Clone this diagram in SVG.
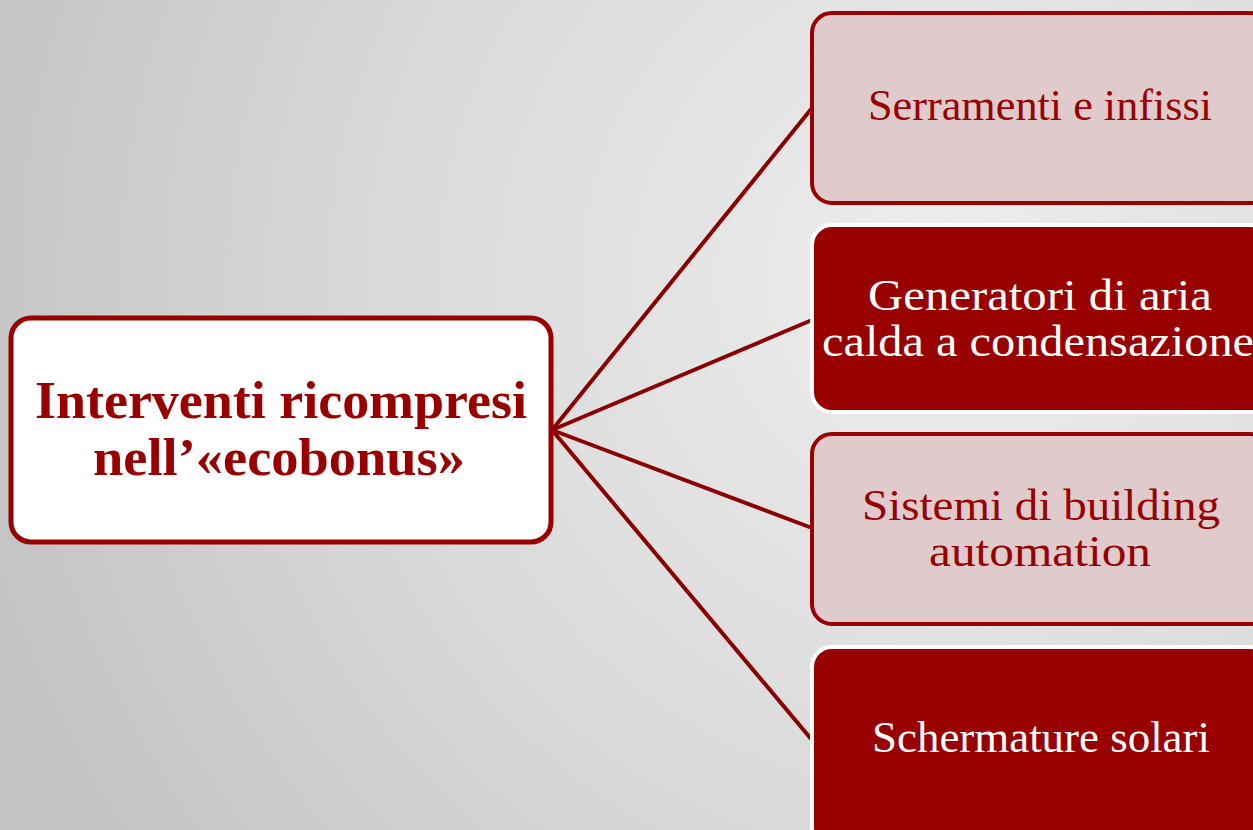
<svg xmlns="http://www.w3.org/2000/svg" width="1253" height="830" viewBox="0 0 1253 830">
<defs>
<radialGradient id="bg" cx="950" cy="280" r="1000" gradientUnits="userSpaceOnUse">
<stop offset="0" stop-color="#eeeeee"/>
<stop offset="0.55" stop-color="#dadada"/>
<stop offset="1" stop-color="#c4c4c4"/>
</radialGradient>
<style>
.conn{stroke:#8a0000;stroke-width:4;fill:none;stroke-linecap:round}
.light{fill:#dfcbcb;stroke:#990000;stroke-width:4}
.dark{fill:#990000;stroke:#ffffff;stroke-width:4}
.main{fill:#ffffff;stroke:#990000;stroke-width:5}
.t{font-family:"Liberation Serif","Times New Roman",serif;text-anchor:middle}
.tl{fill:#990000;font-size:45px}
.td{fill:#ffffff;font-size:45px}
.tm{fill:#990000;font-size:52px;font-weight:bold}
</style>
</defs>
<rect x="0" y="0" width="1253" height="830" fill="url(#bg)"/>
<g id="connectors">
<line class="conn" x1="552" y1="430" x2="812" y2="108"/>
<line class="conn" x1="552" y1="430" x2="812" y2="320"/>
<line class="conn" x1="552" y1="430" x2="812" y2="528"/>
<line class="conn" x1="552" y1="430" x2="812" y2="740"/>
</g>
<g id="node-main">
<rect class="main" x="11" y="318" width="540" height="224" rx="20"/>
<text class="t tm" x="281" y="418" textLength="492" lengthAdjust="spacingAndGlyphs">Interventi ricompresi</text>
<text class="t tm" x="279" y="475" textLength="372" lengthAdjust="spacingAndGlyphs">nell’«ecobonus»</text>
</g>
<g id="node-1">
<rect class="light" x="812" y="13" width="458" height="190" rx="20"/>
<text class="t tl" x="1040" y="120" textLength="344" lengthAdjust="spacingAndGlyphs">Serramenti e infissi</text>
</g>
<g id="node-2">
<rect class="dark" x="812" y="225" width="458" height="187" rx="20"/>
<text class="t td" x="1040" y="310" textLength="344" lengthAdjust="spacingAndGlyphs">Generatori di aria</text>
<text class="t td" x="1038" y="356" textLength="432" lengthAdjust="spacingAndGlyphs">calda a condensazione</text>
</g>
<g id="node-3">
<rect class="light" x="812" y="434" width="458" height="190" rx="20"/>
<text class="t tl" x="1041" y="520" textLength="358" lengthAdjust="spacingAndGlyphs">Sistemi di building</text>
<text class="t tl" x="1040" y="566" textLength="222" lengthAdjust="spacingAndGlyphs">automation</text>
</g>
<g id="node-4">
<rect class="dark" x="812" y="647" width="458" height="200" rx="20"/>
<text class="t td" x="1041" y="752" textLength="338" lengthAdjust="spacingAndGlyphs">Schermature solari</text>
</g>
</svg>
